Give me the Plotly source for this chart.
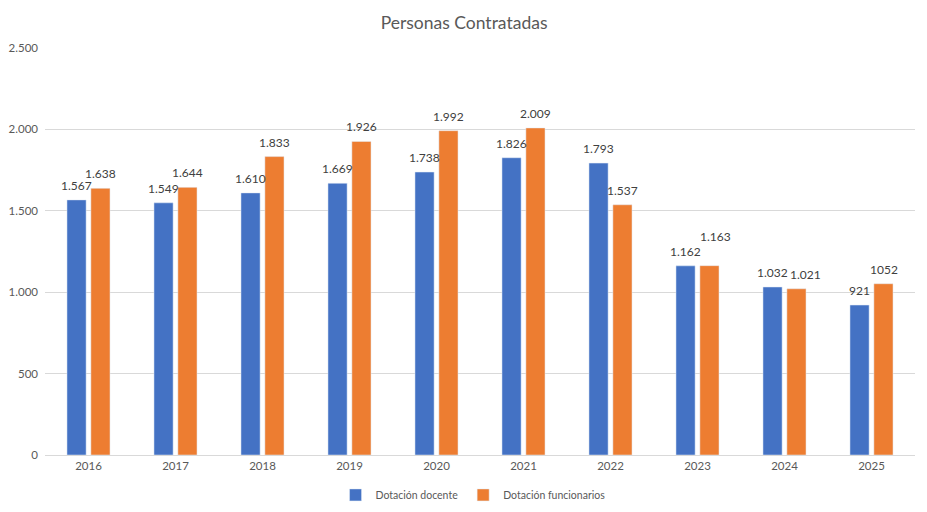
import plotly.graph_objects as go

# Data
years = ["2016", "2017", "2018", "2019", "2020", "2021", "2022", "2023", "2024", "2025"]
docente = [1567, 1549, 1610, 1669, 1738, 1826, 1793, 1162, 1032, 921]
funcionarios = [1638, 1644, 1833, 1926, 1992, 2009, 1537, 1163, 1021, 1052]
docente_labels = ["1.567", "1.549", "1.610", "1.669", "1.738", "1.826", "1.793", "1.162", "1.032", "921"]
funcionarios_labels = ["1.638", "1.644", "1.833", "1.926", "1.992", "2.009", "1.537", "1.163", "1.021", "1052"]
y_ticks = [0, 500, 1000, 1500, 2000, 2500]
y_tick_labels = ["0", "500", "1.000", "1.500", "2.000", "2.500"]

font_family = "Lato, Open Sans, sans-serif"
gray = "#595959"
label_color = "#404040"

fig = go.Figure()
fig.add_trace(go.Bar(x=years, y=docente, name="Dotación docente", marker_color="#4472C4"))
fig.add_trace(go.Bar(x=years, y=funcionarios, name="Dotación funcionarios", marker_color="#ED7D31"))

# data labels above each bar; on a category axis annotations use the category index
# (Excel nudges a couple of them to avoid overlap)
nudge = {("f", "2023"): (6, 15), ("f", "2024"): (9, 0)}
for key, vals, labels, dx in (("d", docente, docente_labels, -12),
                              ("f", funcionarios, funcionarios_labels, 12)):
    for i, (yr, v, lab) in enumerate(zip(years, vals, labels)):
        ex, ey = nudge.get((key, yr), (0, 0))
        fig.add_annotation(x=i, y=v, text=lab, showarrow=False,
                           xshift=dx + ex, yshift=5 + ey, yanchor="bottom",
                           font=dict(size=12, color=label_color))

fig.update_layout(
    width=927, height=512,
    margin=dict(l=37, r=20, t=40, b=65, autoexpand=False),
    paper_bgcolor="white", plot_bgcolor="white",
    font=dict(family=font_family, size=12, color=gray),
    title=dict(text="Personas Contratadas", x=0.492, xref="container",
               y=0.971, yref="container", yanchor="middle",
               font=dict(size=17.5, color=gray)),
    barmode="group", bargap=0.45, bargroupgap=0.2,
    legend=dict(orientation="h", x=0.492, xanchor="center",
                y=0.049, yref="container", yanchor="middle",
                font=dict(size=10.5, color=gray), itemwidth=30),
    showlegend=True,
)
fig.update_xaxes(type="category", range=[-0.5, len(years) - 0.5],
                 showgrid=False, showline=True, linecolor="#d9d9d9",
                 linewidth=1, ticks="", automargin=False,
                 tickfont=dict(size=11.5, color=gray))
fig.update_yaxes(range=[0, 2500], tickvals=y_ticks, ticktext=y_tick_labels,
                 showgrid=True, gridcolor="#d9d9d9", gridwidth=1,
                 zeroline=False, showline=False, ticks="", automargin=False,
                 ticklabelstandoff=6, tickfont=dict(size=11.5, color=gray))

fig.write_html("out.html")
